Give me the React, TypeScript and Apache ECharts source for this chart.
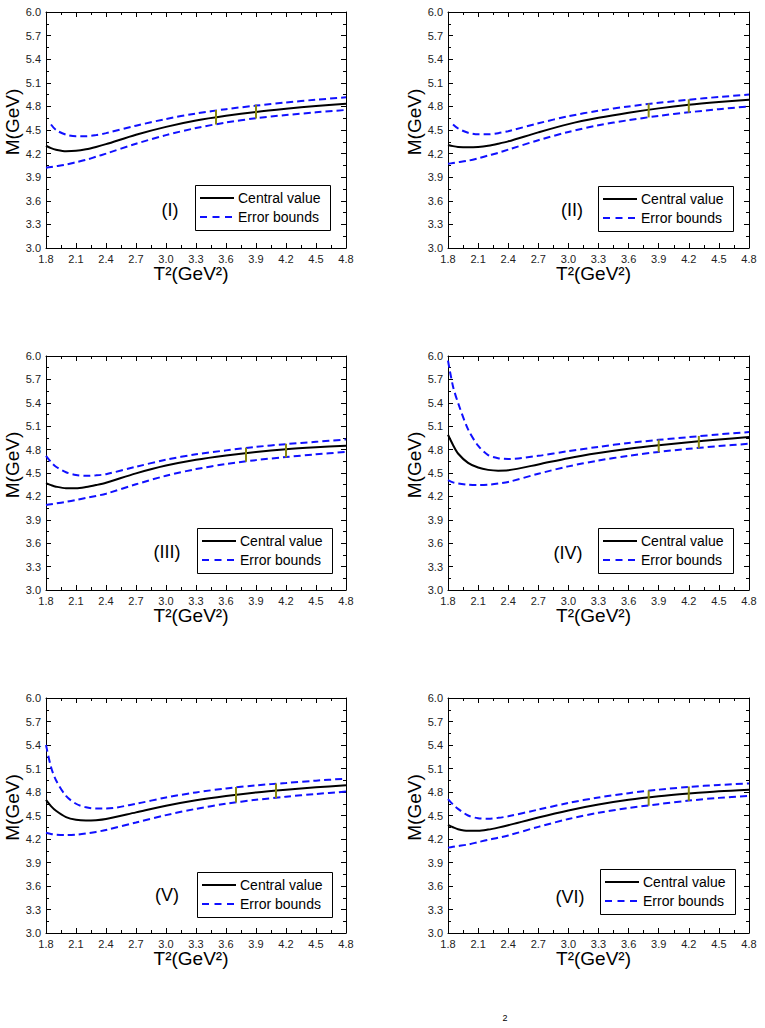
import React, { useEffect, useRef } from "react";
import * as echarts from "echarts";

// Borel parameter grid T^2 (GeV^2)
const T_GRID = [1.8, 1.85, 1.9, 2.0, 2.1, 2.2, 2.3, 2.4, 2.7, 3.0, 3.3, 3.6, 3.9, 4.2, 4.5, 4.8];

// Panel I
const C1 = [4.30, 4.27, 4.25, 4.23, 4.235, 4.255, 4.285, 4.32, 4.44, 4.54, 4.62, 4.68, 4.73, 4.77, 4.805, 4.835];
const U1 = [null, 4.57, 4.50, 4.44, 4.42, 4.42, 4.435, 4.46, 4.555, 4.64, 4.71, 4.765, 4.81, 4.85, 4.885, 4.915];
const L1 = [4.02, 4.03, 4.04, 4.06, 4.09, 4.12, 4.16, 4.20, 4.325, 4.435, 4.525, 4.595, 4.65, 4.69, 4.725, 4.755];
const W1_T = [3.5, 3.9]; const W1_LO = [4.57, 4.645]; const W1_HI = [4.755, 4.82];

// Panel II
const C2 = [4.31, 4.295, 4.285, 4.28, 4.285, 4.30, 4.325, 4.355, 4.47, 4.575, 4.655, 4.72, 4.775, 4.82, 4.855, 4.885];
const U2 = [null, 4.57, 4.52, 4.465, 4.445, 4.445, 4.46, 4.485, 4.585, 4.675, 4.745, 4.80, 4.845, 4.885, 4.92, 4.95];
const L2 = [4.07, 4.08, 4.09, 4.11, 4.14, 4.175, 4.21, 4.25, 4.37, 4.475, 4.56, 4.625, 4.68, 4.725, 4.765, 4.80];
const W2_T = [3.8, 4.2]; const W2_LO = [4.66, 4.72]; const W2_HI = [4.84, 4.89];

// Panel III
const C3 = [4.37, 4.345, 4.325, 4.305, 4.305, 4.32, 4.345, 4.375, 4.495, 4.595, 4.67, 4.725, 4.77, 4.805, 4.83, 4.85];
const U3 = [4.72, 4.64, 4.58, 4.51, 4.475, 4.465, 4.47, 4.485, 4.58, 4.67, 4.74, 4.79, 4.835, 4.87, 4.90, 4.93];
const L3 = [4.09, 4.10, 4.11, 4.13, 4.155, 4.18, 4.205, 4.235, 4.355, 4.465, 4.55, 4.615, 4.665, 4.705, 4.74, 4.77];
const W3_T = [3.8, 4.2]; const W3_LO = [4.645, 4.70]; const W3_HI = [4.825, 4.875];

// Panel IV
const C4 = [4.99, 4.86, 4.75, 4.63, 4.57, 4.54, 4.53, 4.535, 4.61, 4.69, 4.755, 4.81, 4.855, 4.895, 4.93, 4.96];
const U4 = [5.94, 5.61, 5.40, 5.06, 4.85, 4.73, 4.69, 4.68, 4.72, 4.78, 4.835, 4.885, 4.925, 4.96, 4.995, 5.025];
const L4 = [4.41, 4.38, 4.365, 4.35, 4.345, 4.35, 4.365, 4.385, 4.49, 4.585, 4.66, 4.72, 4.77, 4.81, 4.845, 4.875];
const W4_T = [3.9, 4.3]; const W4_LO = [4.765, 4.815]; const W4_HI = [4.93, 4.975];

// Panel V
const C5 = [4.70, 4.62, 4.56, 4.48, 4.445, 4.435, 4.44, 4.455, 4.54, 4.625, 4.695, 4.75, 4.795, 4.83, 4.86, 4.885];
const U5 = [5.40, 5.12, 4.95, 4.75, 4.65, 4.605, 4.59, 4.59, 4.65, 4.73, 4.795, 4.845, 4.885, 4.915, 4.945, 4.97];
const L5 = [4.28, 4.265, 4.255, 4.25, 4.255, 4.27, 4.29, 4.315, 4.41, 4.505, 4.585, 4.65, 4.70, 4.74, 4.775, 4.805];
const W5_T = [3.7, 4.1]; const W5_LO = [4.665, 4.72]; const W5_HI = [4.865, 4.91];

// Panel VI
const C6 = [4.38, 4.35, 4.325, 4.305, 4.305, 4.32, 4.345, 4.375, 4.475, 4.565, 4.64, 4.70, 4.745, 4.78, 4.81, 4.83];
const U6 = [4.71, 4.64, 4.585, 4.50, 4.465, 4.46, 4.47, 4.49, 4.575, 4.66, 4.73, 4.785, 4.83, 4.865, 4.89, 4.91];
const L6 = [4.09, 4.10, 4.11, 4.13, 4.16, 4.19, 4.215, 4.245, 4.355, 4.455, 4.535, 4.595, 4.645, 4.69, 4.725, 4.75];
const W6_T = [3.8, 4.2]; const W6_LO = [4.625, 4.685]; const W6_HI = [4.82, 4.87];

const PANEL_LABELS = ["(I)", "(II)", "(III)", "(IV)", "(V)", "(VI)"];
const SERIES_NAMES = ["Central value", "Error bounds"];
const X_NAME = "T²(GeV²)";
const Y_NAME = "M(GeV)";
const CAPTION_FRAGMENT = "2";

const PANELS = [
  { c: C1, u: U1, l: L1, wt: W1_T, wlo: W1_LO, whi: W1_HI },
  { c: C2, u: U2, l: L2, wt: W2_T, wlo: W2_LO, whi: W2_HI },
  { c: C3, u: U3, l: L3, wt: W3_T, wlo: W3_LO, whi: W3_HI },
  { c: C4, u: U4, l: L4, wt: W4_T, wlo: W4_LO, whi: W4_HI },
  { c: C5, u: U5, l: L5, wt: W5_T, wlo: W5_LO, whi: W5_HI },
  { c: C6, u: U6, l: L6, wt: W6_T, wlo: W6_LO, whi: W6_HI },
];

// layout (pixels)
const GRID_LEFTS = [46, 448];
const GRID_WIDTHS = [300, 301];
const GRID_TOPS = [12, 356, 698];
const GRID_HEIGHTS = [236, 234, 235];
const LEGEND_POS = [[195, 185], [598, 186], [197, 528], [598, 528], [197, 872], [600, 869]];
const LABEL_POS = [[170, 210], [572, 210], [167, 552], [568, 553], [167, 895], [570, 897]];

const FONT = "'Liberation Sans', Arial, Helvetica, sans-serif";
const BLUE = "#1010ff";
const DASH = [7, 4];

const pairs = (xs: number[], ys: (number | null)[]) =>
  xs.map((x, i) => [x, ys[i]]).filter((p) => p[1] !== null);

export default function App() {
  const ref = useRef<HTMLDivElement>(null);
  useEffect(() => {
    if (!ref.current) return;
    const chart = echarts.init(ref.current, undefined, { renderer: "svg" });
    const grid: any[] = [];
    const xAxis: any[] = [];
    const yAxis: any[] = [];
    const series: any[] = [];
    const graphic: any[] = [];

    const tickCommon = {
      axisTick: { show: true, inside: true, length: 5, lineStyle: { color: "#000", width: 1 } },
      minorTick: { show: true, splitNumber: 2, length: 3, lineStyle: { color: "#000", width: 1 } },
      axisLine: { show: true, onZero: false, lineStyle: { color: "#000", width: 1 } },
      splitLine: { show: false },
    };
    const labelStyle = { show: true, color: "#222", fontSize: 11, fontFamily: FONT, margin: 5, formatter: (v: number) => v.toFixed(1) };

    PANELS.forEach((p, i) => {
      const col = i % 2;
      const row = Math.floor(i / 2);
      const left = GRID_LEFTS[col];
      const top = GRID_TOPS[row];
      const w = GRID_WIDTHS[col];
      const h = GRID_HEIGHTS[row];
      grid.push({ left, top, width: w, height: h, containLabel: false });
      xAxis.push({ type: "value", gridIndex: i, min: 1.8, max: 4.8, interval: 0.3, position: "bottom", ...tickCommon, axisLabel: labelStyle });
      xAxis.push({ type: "value", gridIndex: i, min: 1.8, max: 4.8, interval: 0.3, position: "top", ...tickCommon, axisLabel: { show: false } });
      yAxis.push({ type: "value", gridIndex: i, min: 3.0, max: 6.0, interval: 0.3, position: "left", ...tickCommon, axisLabel: labelStyle });
      yAxis.push({ type: "value", gridIndex: i, min: 3.0, max: 6.0, interval: 0.3, position: "right", ...tickCommon, axisLabel: { show: false } });
      const xi = i * 2;
      const yi = i * 2;
      series.push({
        type: "line", name: SERIES_NAMES[0], xAxisIndex: xi, yAxisIndex: yi,
        data: pairs(T_GRID, p.c), smooth: 0.3, showSymbol: false, symbol: "none",
        lineStyle: { color: "#000", width: 2 }, z: 3,
      });
      [p.u, p.l].forEach((arr) => {
        series.push({
          type: "line", name: SERIES_NAMES[1], xAxisIndex: xi, yAxisIndex: yi,
          data: pairs(T_GRID, arr), smooth: 0.3, showSymbol: false, symbol: "none",
          lineStyle: { color: BLUE, width: 2, type: DASH }, z: 3,
        });
      });
      p.wt.forEach((t, k) => {
        series.push({
          type: "line", name: "window", xAxisIndex: xi, yAxisIndex: yi,
          data: [[t, p.wlo[k]], [t, p.whi[k]]], showSymbol: false, symbol: "none",
          lineStyle: { color: "#8a8a10", width: 2 }, z: 4, silent: true,
        });
      });

      // legend box
      const lx = LEGEND_POS[i][0];
      const ly = LEGEND_POS[i][1];
      graphic.push({
        type: "group", x: lx, y: ly, z: 100,
        children: [
          { type: "rect", shape: { x: 0.5, y: 0.5, width: 135, height: 45 }, style: { fill: "#fff", stroke: "#000", lineWidth: 1 } },
          { type: "line", shape: { x1: 5, y1: 13, x2: 39, y2: 13 }, style: { stroke: "#000", lineWidth: 2 } },
          { type: "text", x: 43, y: 13, style: { text: SERIES_NAMES[0], fontSize: 14, fontFamily: FONT, fill: "#000", align: "left", verticalAlign: "middle" } },
          { type: "line", shape: { x1: 5, y1: 32, x2: 39, y2: 32 }, style: { stroke: BLUE, lineWidth: 2, lineDash: [7, 5.5] } },
          { type: "text", x: 43, y: 32, style: { text: SERIES_NAMES[1], fontSize: 14, fontFamily: FONT, fill: "#000", align: "left", verticalAlign: "middle" } },
        ],
      });
      graphic.push({
        type: "text", x: LABEL_POS[i][0], y: LABEL_POS[i][1],
        style: { text: PANEL_LABELS[i], fontSize: 18, fontFamily: FONT, fill: "#000", align: "center", verticalAlign: "middle" },
      });
      graphic.push({
        type: "text", x: left + w / 2 - 5, y: top + h + 25,
        style: { text: X_NAME, fontSize: 19, fontFamily: FONT, fill: "#000", align: "center", verticalAlign: "middle" },
      });
      graphic.push({
        type: "text", x: left - 34, y: top + h / 2 - 8, rotation: Math.PI / 2,
        style: { text: Y_NAME, fontSize: 19, fontFamily: FONT, fill: "#000", align: "center", verticalAlign: "middle" },
      });
    });
    graphic.push({
      type: "text", x: 505, y: 1013,
      style: { text: CAPTION_FRAGMENT, fontSize: 9, fontFamily: FONT, fill: "#000", align: "center", verticalAlign: "top" },
    });

    chart.setOption({
      animation: false,
      backgroundColor: "#fff",
      grid, xAxis, yAxis, series, graphic,
    });
    return () => chart.dispose();
  }, []);
  return <div ref={ref} style={{ position: "absolute", left: 0, top: 0, width: 765, height: 1028 }} />;
}
